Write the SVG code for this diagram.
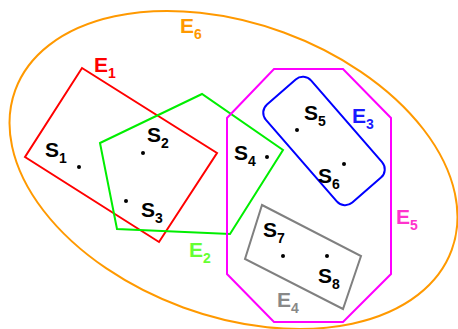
<svg xmlns="http://www.w3.org/2000/svg" width="458" height="329" viewBox="0 0 458 329">
<style>
.sh{fill:none;stroke-width:2;stroke-linejoin:miter}
.t{font-family:"Liberation Sans",Arial,sans-serif;font-weight:bold;font-size:21px}
.sub{font-size:14px}
.s{fill:#000}
.d{fill:#000}
</style>
<rect width="458" height="329" fill="#fff"/>
<g id="E6">
<ellipse class="sh" cx="233.5" cy="170" rx="232.4" ry="146.4" transform="rotate(20.1 233.5 170)" stroke="#ff9900"/>
<text class="t" x="180" y="33" fill="#ff9900">E<tspan class="sub" dy="6">6</tspan></text>
</g>
<g id="E1">
<polygon class="sh" points="82,68 217,153 159,242 25,157" stroke="#ff0000"/>
<text class="t" x="94" y="72" fill="#ff0000">E<tspan class="sub" dy="6">1</tspan></text>
</g>
<g id="E2">
<polygon class="sh" points="100,143 202,94 283,150 230,234 117,229" stroke="#00ee00"/>
<text class="t" x="189" y="257" fill="#66ff33">E<tspan class="sub" dy="6">2</tspan></text>
</g>
<g id="E5">
<polygon class="sh" points="274,69 343,69 391,118 391,274 343,322 274,322 227,274 227,118" stroke="#ff00ff"/>
<text class="t" x="396" y="224" fill="#ff33cc">E<tspan class="sub" dy="6">5</tspan></text>
</g>
<g id="E3">
<rect class="sh" x="259" y="111" width="130" height="60" rx="11" transform="rotate(49 324 141)" stroke="#0000ff"/>
<text class="t" x="352" y="123" fill="#1a1aff">E<tspan class="sub" dy="6">3</tspan></text>
</g>
<g id="E4">
<polygon class="sh" points="262,205 361,256 343,309 245,259" stroke="#808080"/>
<text class="t" x="277" y="307" fill="#888888">E<tspan class="sub" dy="6">4</tspan></text>
</g>
<g id="S1"><circle class="d" cx="79" cy="167" r="2"/><text class="t s" x="45" y="157">S<tspan class="sub" dy="6">1</tspan></text></g>
<g id="S2"><circle class="d" cx="143" cy="153" r="2"/><text class="t s" x="147" y="142">S<tspan class="sub" dy="6">2</tspan></text></g>
<g id="S3"><circle class="d" cx="126" cy="201" r="2"/><text class="t s" x="141" y="217">S<tspan class="sub" dy="6">3</tspan></text></g>
<g id="S4"><circle class="d" cx="267" cy="157" r="2"/><text class="t s" x="234" y="160">S<tspan class="sub" dy="6">4</tspan></text></g>
<g id="S5"><circle class="d" cx="297" cy="130" r="2"/><text class="t s" x="304" y="120">S<tspan class="sub" dy="6">5</tspan></text></g>
<g id="S6"><circle class="d" cx="344" cy="164" r="2"/><text class="t s" x="318" y="183">S<tspan class="sub" dy="6">6</tspan></text></g>
<g id="S7"><circle class="d" cx="283" cy="256" r="2"/><text class="t s" x="263" y="237">S<tspan class="sub" dy="6">7</tspan></text></g>
<g id="S8"><circle class="d" cx="327" cy="256" r="2"/><text class="t s" x="318" y="283">S<tspan class="sub" dy="6">8</tspan></text></g>
</svg>
